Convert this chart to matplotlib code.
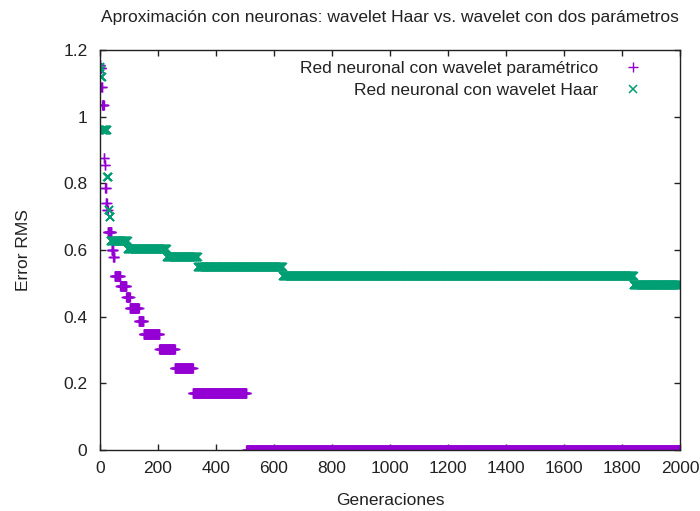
import numpy as np
import matplotlib
matplotlib.use("Agg")
from matplotlib import pyplot as plt

plt.rcParams["font.family"] = ["Liberation Sans", "DejaVu Sans"]

# step data: first generation of each level and its RMS error
param_start = [0, 2, 5, 8, 14, 16, 18, 21, 24, 27, 40, 46, 50, 70, 91, 103, 134, 150, 205, 258, 320, 505]
param_err = [1.155, 1.145, 1.09, 1.035, 0.875, 0.855, 0.785, 0.74, 0.72, 0.655, 0.60, 0.58,
             0.523, 0.493, 0.46, 0.426, 0.388, 0.348, 0.302, 0.246, 0.172, 0.0]

haar_start = [0, 2, 4, 8, 25, 30, 33, 37, 96, 231, 338, 631, 1841]
haar_err = [1.15, 1.14, 1.12, 0.96, 0.82, 0.72, 0.70, 0.628, 0.603, 0.578, 0.549, 0.522, 0.495]

n_gen = 2001


def expand(starts, vals):
    counts = np.diff(starts + [n_gen])
    return np.arange(n_gen), np.repeat(vals, counts)


purple = "#9400d3"
green = "#009e73"
fs = 12.5

fig = plt.figure(figsize=(7.0, 5.11), dpi=100)
ax = fig.add_axes([100 / 700, 61 / 511, 580 / 700, 400 / 511])

gx, gy = expand(param_start, param_err)
ax.plot(gx, gy, linestyle="none", marker="+", ms=6.5, mew=1, color=purple,
        label="Red neuronal con wavelet paramétrico")
hx, hy = expand(haar_start, haar_err)
ax.plot(hx, hy, linestyle="none", marker="x", ms=5.5, mew=1.1, color=green,
        label="Red neuronal con wavelet Haar")

ax.set_xlim(0, 2000)
ax.set_ylim(0, 1.2)
ax.set_xticks(np.arange(0, 2001, 200))
ax.set_yticks(np.arange(0, 1.21, 0.2))
ax.set_yticklabels(["0", "0.2", "0.4", "0.6", "0.8", "1", "1.2"])
ax.tick_params(direction="in", top=True, right=True, length=4, width=1,
               labelsize=fs, colors="#222222")
ax.tick_params(axis="x", pad=8)
ax.tick_params(axis="y", pad=9)
for s in ax.spines.values():
    s.set_linewidth(1)
    s.set_color("#222222")

ax.set_title("Aproximación con neuronas: wavelet Haar vs. wavelet con dos parámetros",
             fontsize=fs, pad=20, color="#222222")
ax.set_xlabel("Generaciones", fontsize=fs, labelpad=12, color="#222222")
ax.set_ylabel("Error RMS", fontsize=fs, labelpad=23, color="#222222")

ax.legend(loc="upper right", frameon=False, markerfirst=False, fontsize=fs,
          handlelength=2.0, handletextpad=1.0, borderaxespad=0.15,
          borderpad=0.3, labelspacing=0.4, bbox_to_anchor=(0.962, 0.993))
leg = ax.get_legend()
for t in leg.get_texts():
    t.set_ha("right")
    t.set_color("#222222")

fig.savefig("out.png", dpi=100)
